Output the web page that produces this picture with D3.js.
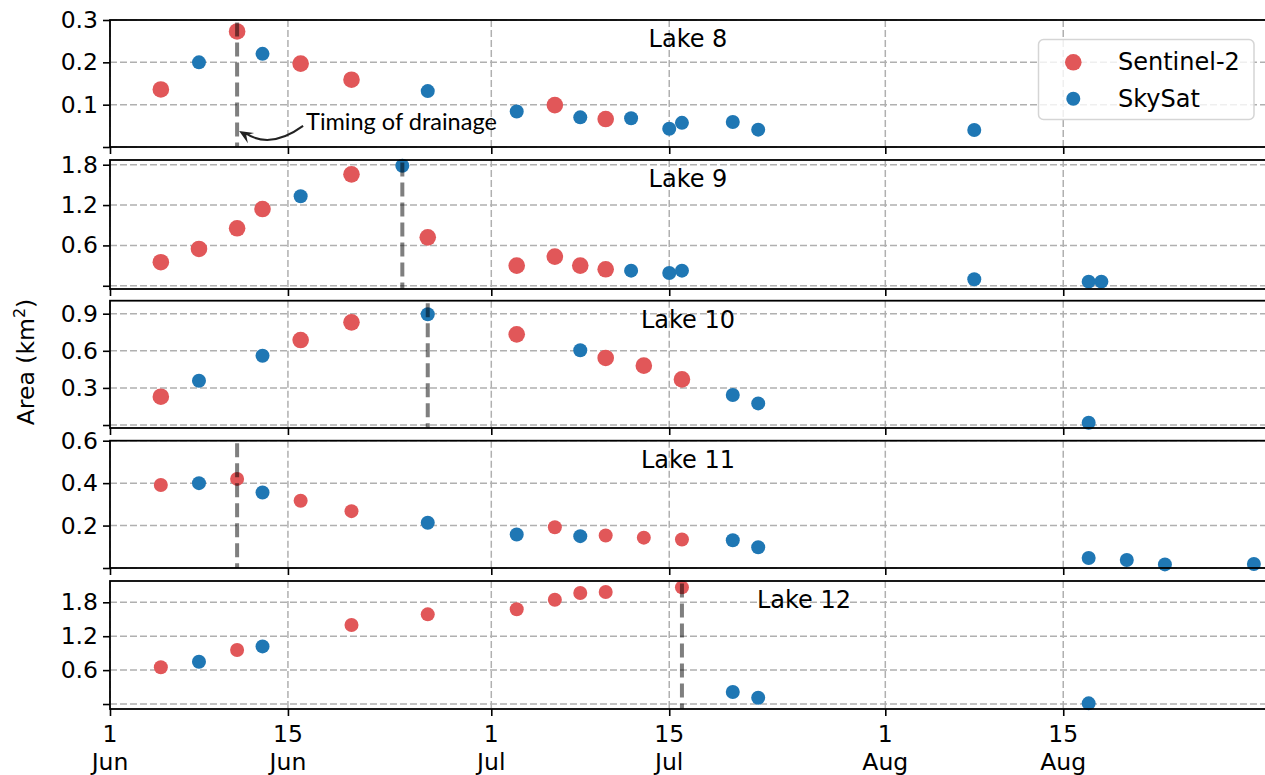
<!DOCTYPE html>
<meta charset="utf-8">
<script src="https://d3js.org/d3.v7.min.js"></script>
<style>
  body { margin: 0; background: white; }
  text { font-family: 'DejaVu Sans'; fill: black; }
</style>
<div id="chart"></div>
<script>

// ---------------- data ----------------
const lakeNames = ["Lake 8", "Lake 9", "Lake 10", "Lake 11", "Lake 12"];

const lake8S2Dates  = ["06-05","06-11","06-16","06-20","07-06","07-10"];
const lake8S2Area   = [0.136, 0.273, 0.197, 0.159, 0.099, 0.066];
const lake8SkyDates = ["06-08","06-13","06-26","07-03","07-08","07-12","07-15","07-16","07-20","07-22","08-08"];
const lake8SkyArea  = [0.200, 0.220, 0.132, 0.084, 0.070, 0.068, 0.043, 0.057, 0.059, 0.041, 0.040];

const lake9S2Dates  = ["06-05","06-08","06-11","06-13","06-20","06-26","07-03","07-06","07-08","07-10"];
const lake9S2Area   = [0.35, 0.547, 0.855, 1.141, 1.657, 0.72, 0.30, 0.433, 0.30, 0.245];
const lake9SkyDates = ["06-16","06-24","07-12","07-15","07-16","08-08","08-17","08-18"];
const lake9SkyArea  = [1.33, 1.785, 0.225, 0.19, 0.225, 0.097, 0.061, 0.061];

const lake10S2Dates  = ["06-05","06-16","06-20","07-03","07-10","07-13","07-16"];
const lake10S2Area   = [0.229, 0.687, 0.83, 0.733, 0.542, 0.48, 0.369];
const lake10SkyDates = ["06-08","06-13","06-26","07-08","07-20","07-22","08-17"];
const lake10SkyArea  = [0.358, 0.56, 0.895, 0.604, 0.243, 0.175, 0.019];

const lake11S2Dates  = ["06-05","06-11","06-16","06-20","07-06","07-10","07-13","07-16"];
const lake11S2Area   = [0.391, 0.42, 0.317, 0.268, 0.192, 0.153, 0.143, 0.134];
const lake11SkyDates = ["06-08","06-13","06-26","07-03","07-08","07-20","07-22","08-17","08-20","08-23","08-30"];
const lake11SkyArea  = [0.40, 0.356, 0.213, 0.158, 0.15, 0.131, 0.098, 0.047, 0.038, 0.017, 0.019];

const lake12S2Dates  = ["06-05","06-11","06-20","06-26","07-03","07-06","07-08","07-10","07-16"];
const lake12S2Area   = [0.65, 0.956, 1.398, 1.587, 1.676, 1.846, 1.965, 1.982, 2.065];
const lake12SkyDates = ["06-08","06-13","07-20","07-22","08-17"];
const lake12SkyArea  = [0.749, 1.02, 0.212, 0.112, 0.012];

// timing of drainage for each lake
const drainageDates = ["06-11", "06-24", "06-26", "06-11", "07-16"];

// y ticks per panel
const yTicks = [
  [0, 0.1, 0.2, 0.3],
  [0, 0.6, 1.2, 1.8],
  [0, 0.3, 0.6, 0.9],
  [0, 0.2, 0.4, 0.6],
  [0, 0.6, 1.2, 1.8]
];
const yDomains = [
  [0, 0.3],
  [-0.048, 1.87],
  [-0.024, 1.005],
  [0, 0.6],
  [-0.088, 2.177]
];

// x ticks
const xTickDates  = ["06-01","06-15","07-01","07-15","08-01","08-15"];
const xTickDays   = ["1","15","1","15","1","15"];
const xTickMonths = ["Jun","Jun","Jul","Jul","Aug","Aug"];

const seriesNames = ["Sentinel-2", "SkySat"];

// ---------------- layout ----------------
const W = 1265, H = 775;
const panelTop    = [20, 160, 300.7, 440.7, 581];
const panelBottom = [147, 289, 428, 568, 709];
const lakeLabelX  = [688, 688, 688, 688, 804];
const redRadius   = [8.3, 8.3, 8.3, 7, 7];
const blueRadius  = 7;
const red = "#e15759", blue = "#1f77b4";

const parse = s => d3.utcParse("%Y-%m-%d")("2019-" + s);

const s2Dates  = [lake8S2Dates, lake9S2Dates, lake10S2Dates, lake11S2Dates, lake12S2Dates];
const s2Area   = [lake8S2Area, lake9S2Area, lake10S2Area, lake11S2Area, lake12S2Area];
const skyDates = [lake8SkyDates, lake9SkyDates, lake10SkyDates, lake11SkyDates, lake12SkyDates];
const skyArea  = [lake8SkyArea, lake9SkyArea, lake10SkyArea, lake11SkyArea, lake12SkyArea];

const svg = d3.select("#chart").append("svg")
  .attr("width", W).attr("height", H)
  .style("overflow", "hidden");

const x = d3.scaleUtc()
  .domain([parse("06-01"), parse("08-31")])
  .range([110, 1266.6]);

const fmt = d3.format(".1f");
const yScales = [];

lakeNames.forEach(function(name, i) {
  const top = panelTop[i], bottom = panelBottom[i];
  const y = d3.scaleLinear().domain(yDomains[i]).range([bottom, top]);
  yScales.push(y);
  const g = svg.append("g");

  // grid
  g.append("g").selectAll("line")
    .data(yTicks[i]).enter().append("line")
      .attr("x1", 110).attr("x2", W)
      .attr("y1", d => y(d)).attr("y2", d => y(d))
      .attr("stroke", "#b0b0b0").attr("stroke-width", 1.5)
      .attr("stroke-dasharray", "7,3");
  g.append("g").selectAll("line")
    .data(xTickDates).enter().append("line")
      .attr("x1", d => x(parse(d))).attr("x2", d => x(parse(d)))
      .attr("y1", top).attr("y2", bottom)
      .attr("stroke", "#b0b0b0").attr("stroke-width", 1.5)
      .attr("stroke-dasharray", "7,3");

  // points
  g.append("g").selectAll("circle")
    .data(d3.zip(s2Dates[i], s2Area[i])).enter().append("circle")
      .attr("cx", d => x(parse(d[0])))
      .attr("cy", d => y(d[1]))
      .attr("r", redRadius[i])
      .attr("fill", red);
  g.append("g").selectAll("circle")
    .data(d3.zip(skyDates[i], skyArea[i])).enter().append("circle")
      .attr("cx", d => x(parse(d[0])))
      .attr("cy", d => y(d[1]))
      .attr("r", blueRadius)
      .attr("fill", blue);

  // drainage line
  g.append("line")
    .attr("x1", x(parse(drainageDates[i]))).attr("x2", x(parse(drainageDates[i])))
    .attr("y1", top + 2.5).attr("y2", bottom)
    .attr("stroke", "black").attr("stroke-opacity", 0.5)
    .attr("stroke-width", 4)
    .attr("stroke-dasharray", "14,6");

  // axes
  const yAxis = g.append("g")
    .attr("transform", "translate(110,0)")
    .call(d3.axisLeft(y).tickValues(yTicks[i]).tickSize(7).tickPadding(5)
      .tickFormat(d => d === 0 ? "" : fmt(d)));
  yAxis.select(".domain").remove();
  yAxis.selectAll("line").attr("stroke-width", 1.6);
  yAxis.selectAll("text").style("font-size", "23.5px").style("font-family", "DejaVu Sans");

  const xAxis = g.append("g")
    .attr("transform", "translate(0," + bottom + ")")
    .call(d3.axisBottom(x).tickValues(xTickDates.map(parse)).tickSize(7).tickFormat(""));
  xAxis.select(".domain").remove();
  xAxis.selectAll("line").attr("stroke-width", 1.6);

  // spines
  g.append("rect")
    .attr("x", 110).attr("y", top)
    .attr("width", x.range()[1] - 110).attr("height", bottom - top)
    .attr("fill", "none").attr("stroke", "black").attr("stroke-width", 1.8);

  // lake label
  g.append("text")
    .attr("x", lakeLabelX[i]).attr("y", top + 27)
    .attr("text-anchor", "middle")
    .style("font-size", "24px")
    .text(name);
});

// x tick labels under the last panel
const lastBottom = panelBottom[4];
const xl = svg.append("g").selectAll("text")
  .data(d3.range(xTickDates.length)).enter().append("text")
    .attr("text-anchor", "middle")
    .style("font-size", "23.5px");
xl.append("tspan")
  .attr("x", i => x(parse(xTickDates[i]))).attr("y", lastBottom + 33)
  .text(i => xTickDays[i]);
xl.append("tspan")
  .attr("x", i => x(parse(xTickDates[i]))).attr("y", lastBottom + 61)
  .text(i => xTickMonths[i]);

// y label
const yl = svg.append("text")
  .attr("transform", "translate(34,362) rotate(-90)")
  .attr("text-anchor", "middle")
  .style("font-size", "23.5px");
yl.append("tspan").text("Area (km");
yl.append("tspan").attr("dy", -9).style("font-size", "16px").text("2");
yl.append("tspan").attr("dy", 9).text(")");

// legend
const lg = svg.append("g");
lg.append("rect")
  .attr("x", 1038.5).attr("y", 39.5).attr("width", 215.5).attr("height", 80)
  .attr("rx", 5)
  .attr("fill", "white").attr("fill-opacity", 0.8)
  .attr("stroke", "#d5d5d5").attr("stroke-width", 1.5);
seriesNames.forEach(function(s, k) {
  const cy = 62.3 + k * 36.4;
  lg.append("circle")
    .attr("cx", 1073.3).attr("cy", cy)
    .attr("r", k === 0 ? 8.3 : blueRadius)
    .attr("fill", k === 0 ? red : blue);
  lg.append("text")
    .attr("x", 1118).attr("y", cy + 8)
    .style("font-size", "24px")
    .text(s);
});

// annotation: timing of drainage
const tipX = x(parse(drainageDates[0])) + 2;
const tipY = yScales[0](0.038);
const sx = tipX + 64, sy = tipY - 5;
const cx = tipX + 31, cy = tipY + 19;
svg.append("path")
  .attr("d", "M" + sx + "," + sy + " Q" + cx + "," + cy + " " + (tipX + 6) + "," + (tipY + 2))
  .attr("fill", "none").attr("stroke", "#222").attr("stroke-width", 2);
const ang = Math.atan2(tipY - cy, tipX - cx);
const hl = 14, hw = 6;
const bx = tipX - hl * Math.cos(ang), by = tipY - hl * Math.sin(ang);
const px = -Math.sin(ang) * hw, py = Math.cos(ang) * hw;
svg.append("path")
  .attr("d", "M" + tipX + "," + tipY +
    " L" + (bx + px) + "," + (by + py) +
    " L" + (tipX - 0.6 * hl * Math.cos(ang)) + "," + (tipY - 0.6 * hl * Math.sin(ang)) +
    " L" + (bx - px) + "," + (by - py) + " Z")
  .attr("fill", "#222");
svg.append("text")
  .attr("x", sx + 3).attr("y", 130)
  .style("font-family", "Lato")
  .style("font-size", "23.5px")
  .text("Timing of drainage");

</script>
